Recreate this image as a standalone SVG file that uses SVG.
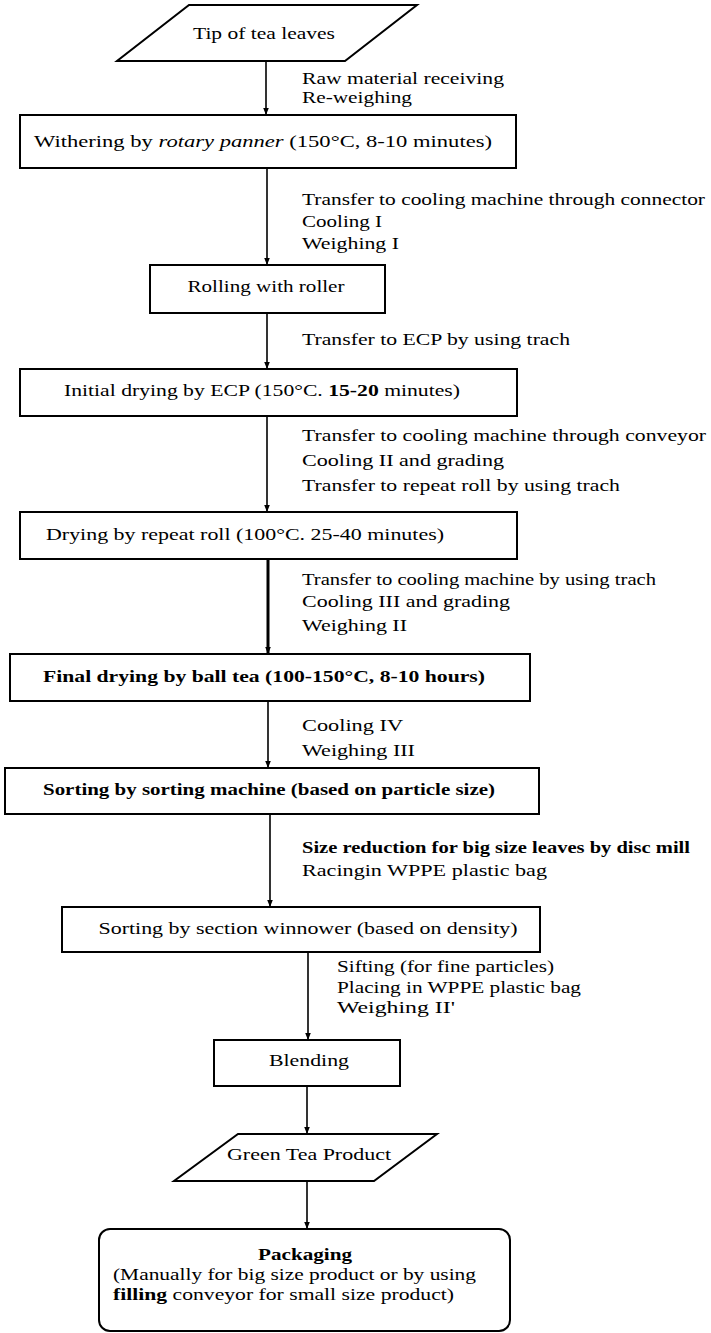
<svg xmlns="http://www.w3.org/2000/svg" width="711" height="1333" viewBox="0 0 711 1333">
<defs>
<style>
.box{fill:#fff;stroke:#000;stroke-width:2}
.t{font-family:"Liberation Serif","Times New Roman",serif;font-size:17px;fill:#000}
.c{text-anchor:middle}
.b{font-weight:bold}
.ln{stroke:#000;stroke-width:1.6;fill:none}
</style>
<marker id="ah" viewBox="0 0 10 10" refX="10" refY="5" markerWidth="5" markerHeight="5" orient="auto" markerUnits="userSpaceOnUse">
<path d="M0,0 L10,5 L0,10 z" fill="#000"/>
</marker>
<marker id="ah2" viewBox="0 0 10 10" refX="10" refY="5" markerWidth="7" markerHeight="7" orient="auto" markerUnits="userSpaceOnUse">
<path d="M0,1 L10,5 L0,9 z" fill="#000"/>
</marker>
</defs>
<rect width="711" height="1333" fill="#fff"/>

<g id="connectors">
<line class="ln" x1="266" y1="61" x2="266" y2="115" marker-end="url(#ah2)"/>
<line class="ln" x1="267" y1="168" x2="267" y2="265" marker-end="url(#ah2)"/>
<line class="ln" x1="267" y1="313" x2="267" y2="369" marker-end="url(#ah2)"/>
<line class="ln" x1="267" y1="416" x2="267" y2="512" marker-end="url(#ah2)"/>
<line x1="268" y1="559" x2="268" y2="654" stroke="#000" stroke-width="3" marker-end="url(#ah2)"/>
<line class="ln" x1="268" y1="701" x2="268" y2="768" marker-end="url(#ah2)"/>
<line class="ln" x1="270" y1="814" x2="270" y2="907" marker-end="url(#ah2)"/>
<line class="ln" x1="308" y1="952" x2="308" y2="1040" marker-end="url(#ah2)"/>
<line class="ln" x1="307" y1="1086" x2="307" y2="1134" marker-end="url(#ah2)"/>
<line class="ln" x1="307" y1="1181" x2="307" y2="1229" marker-end="url(#ah2)"/>
</g>

<g id="connector-labels">
<text class="t" x="302" y="84" textLength="202" lengthAdjust="spacingAndGlyphs">Raw material receiving</text>
<text class="t" x="302" y="103" textLength="110" lengthAdjust="spacingAndGlyphs">Re-weighing</text>
<text class="t" x="302" y="205" textLength="403" lengthAdjust="spacingAndGlyphs">Transfer to cooling machine through connector</text>
<text class="t" x="302" y="227" textLength="80" lengthAdjust="spacingAndGlyphs">Cooling I</text>
<text class="t" x="302" y="249" textLength="97" lengthAdjust="spacingAndGlyphs">Weighing I</text>
<text class="t" x="302" y="345" textLength="268" lengthAdjust="spacingAndGlyphs">Transfer to ECP by using trach</text>
<text class="t" x="302" y="441" textLength="404" lengthAdjust="spacingAndGlyphs">Transfer to cooling machine through conveyor</text>
<text class="t" x="302" y="466" textLength="202" lengthAdjust="spacingAndGlyphs">Cooling II and grading</text>
<text class="t" x="302" y="491" textLength="318" lengthAdjust="spacingAndGlyphs">Transfer to repeat roll by using trach</text>
<text class="t" x="302" y="585" textLength="354" lengthAdjust="spacingAndGlyphs">Transfer to cooling machine by using trach</text>
<text class="t" x="302" y="607" textLength="208" lengthAdjust="spacingAndGlyphs">Cooling III and grading</text>
<text class="t" x="302" y="631" textLength="105" lengthAdjust="spacingAndGlyphs">Weighing II</text>
<text class="t" x="302" y="731" textLength="101" lengthAdjust="spacingAndGlyphs">Cooling IV</text>
<text class="t" x="302" y="756" textLength="113" lengthAdjust="spacingAndGlyphs">Weighing III</text>
<text class="t b" x="302" y="853" textLength="388" lengthAdjust="spacingAndGlyphs">Size reduction for big size leaves by disc mill</text>
<text class="t" x="302" y="876" textLength="245" lengthAdjust="spacingAndGlyphs">Racingin WPPE plastic bag</text>
<text class="t" x="337" y="972" textLength="217" lengthAdjust="spacingAndGlyphs">Sifting (for fine particles)</text>
<text class="t" x="337" y="993" textLength="244" lengthAdjust="spacingAndGlyphs">Placing in WPPE plastic bag</text>
<text class="t" x="337" y="1013" textLength="118" lengthAdjust="spacingAndGlyphs">Weighing II'</text>
</g>

<g id="n-tip">
<polygon class="box" points="189,5 417,5 345,61 117,61"/>
<text class="t c" x="264" y="39" textLength="142" lengthAdjust="spacingAndGlyphs">Tip of tea leaves</text>
</g>

<g id="n-withering">
<rect class="box" x="20" y="115" width="496" height="53"/>
<text class="t c" x="263" y="147" textLength="458" lengthAdjust="spacingAndGlyphs">Withering by <tspan font-style="italic">rotary panner</tspan> (150°C, 8-10 minutes)</text>
</g>

<g id="n-rolling">
<rect class="box" x="150" y="265" width="235" height="48"/>
<text class="t c" x="266" y="292" textLength="157" lengthAdjust="spacingAndGlyphs">Rolling with roller</text>
</g>

<g id="n-initial">
<rect class="box" x="20" y="369" width="497" height="47"/>
<text class="t c" x="262" y="396" textLength="396" lengthAdjust="spacingAndGlyphs">Initial drying by ECP (150°C. <tspan font-weight="bold">15-20</tspan> minutes)</text>
</g>

<g id="n-repeat">
<rect class="box" x="20" y="512" width="497" height="47"/>
<text class="t c" x="245" y="540" textLength="398" lengthAdjust="spacingAndGlyphs">Drying by repeat roll (100°C. 25-40 minutes)</text>
</g>

<g id="n-final">
<rect class="box" x="10" y="654" width="520" height="47"/>
<text class="t c b" x="264" y="682" textLength="442" lengthAdjust="spacingAndGlyphs">Final drying by ball tea (100-150°C, 8-10 hours)</text>
</g>

<g id="n-sorting">
<rect class="box" x="5" y="768" width="534" height="46"/>
<text class="t c b" x="269" y="795" textLength="452" lengthAdjust="spacingAndGlyphs">Sorting by sorting machine (based on particle size)</text>
</g>

<g id="n-winnower">
<rect class="box" x="62" y="907" width="478" height="45"/>
<text class="t c" x="308" y="934" textLength="419" lengthAdjust="spacingAndGlyphs">Sorting by section winnower (based on density)</text>
</g>

<g id="n-blending">
<rect class="box" x="214" y="1040" width="186" height="46"/>
<text class="t c" x="309" y="1066" textLength="80" lengthAdjust="spacingAndGlyphs">Blending</text>
</g>

<g id="n-green">
<polygon class="box" points="238,1134 437,1134 374,1181 174,1181"/>
<text class="t c" x="309" y="1160" textLength="164" lengthAdjust="spacingAndGlyphs">Green Tea Product</text>
</g>

<g id="n-packaging">
<rect class="box" x="99" y="1229" width="411" height="102" rx="11" ry="11"/>
<text class="t c b" x="305" y="1260" textLength="94" lengthAdjust="spacingAndGlyphs">Packaging</text>
<text class="t" x="113" y="1280" textLength="363" lengthAdjust="spacingAndGlyphs">(Manually for big size product or by using</text>
<text class="t" x="113" y="1300" textLength="341" lengthAdjust="spacingAndGlyphs"><tspan font-weight="bold">filling</tspan> conveyor for small size product)</text>
</g>
</svg>
